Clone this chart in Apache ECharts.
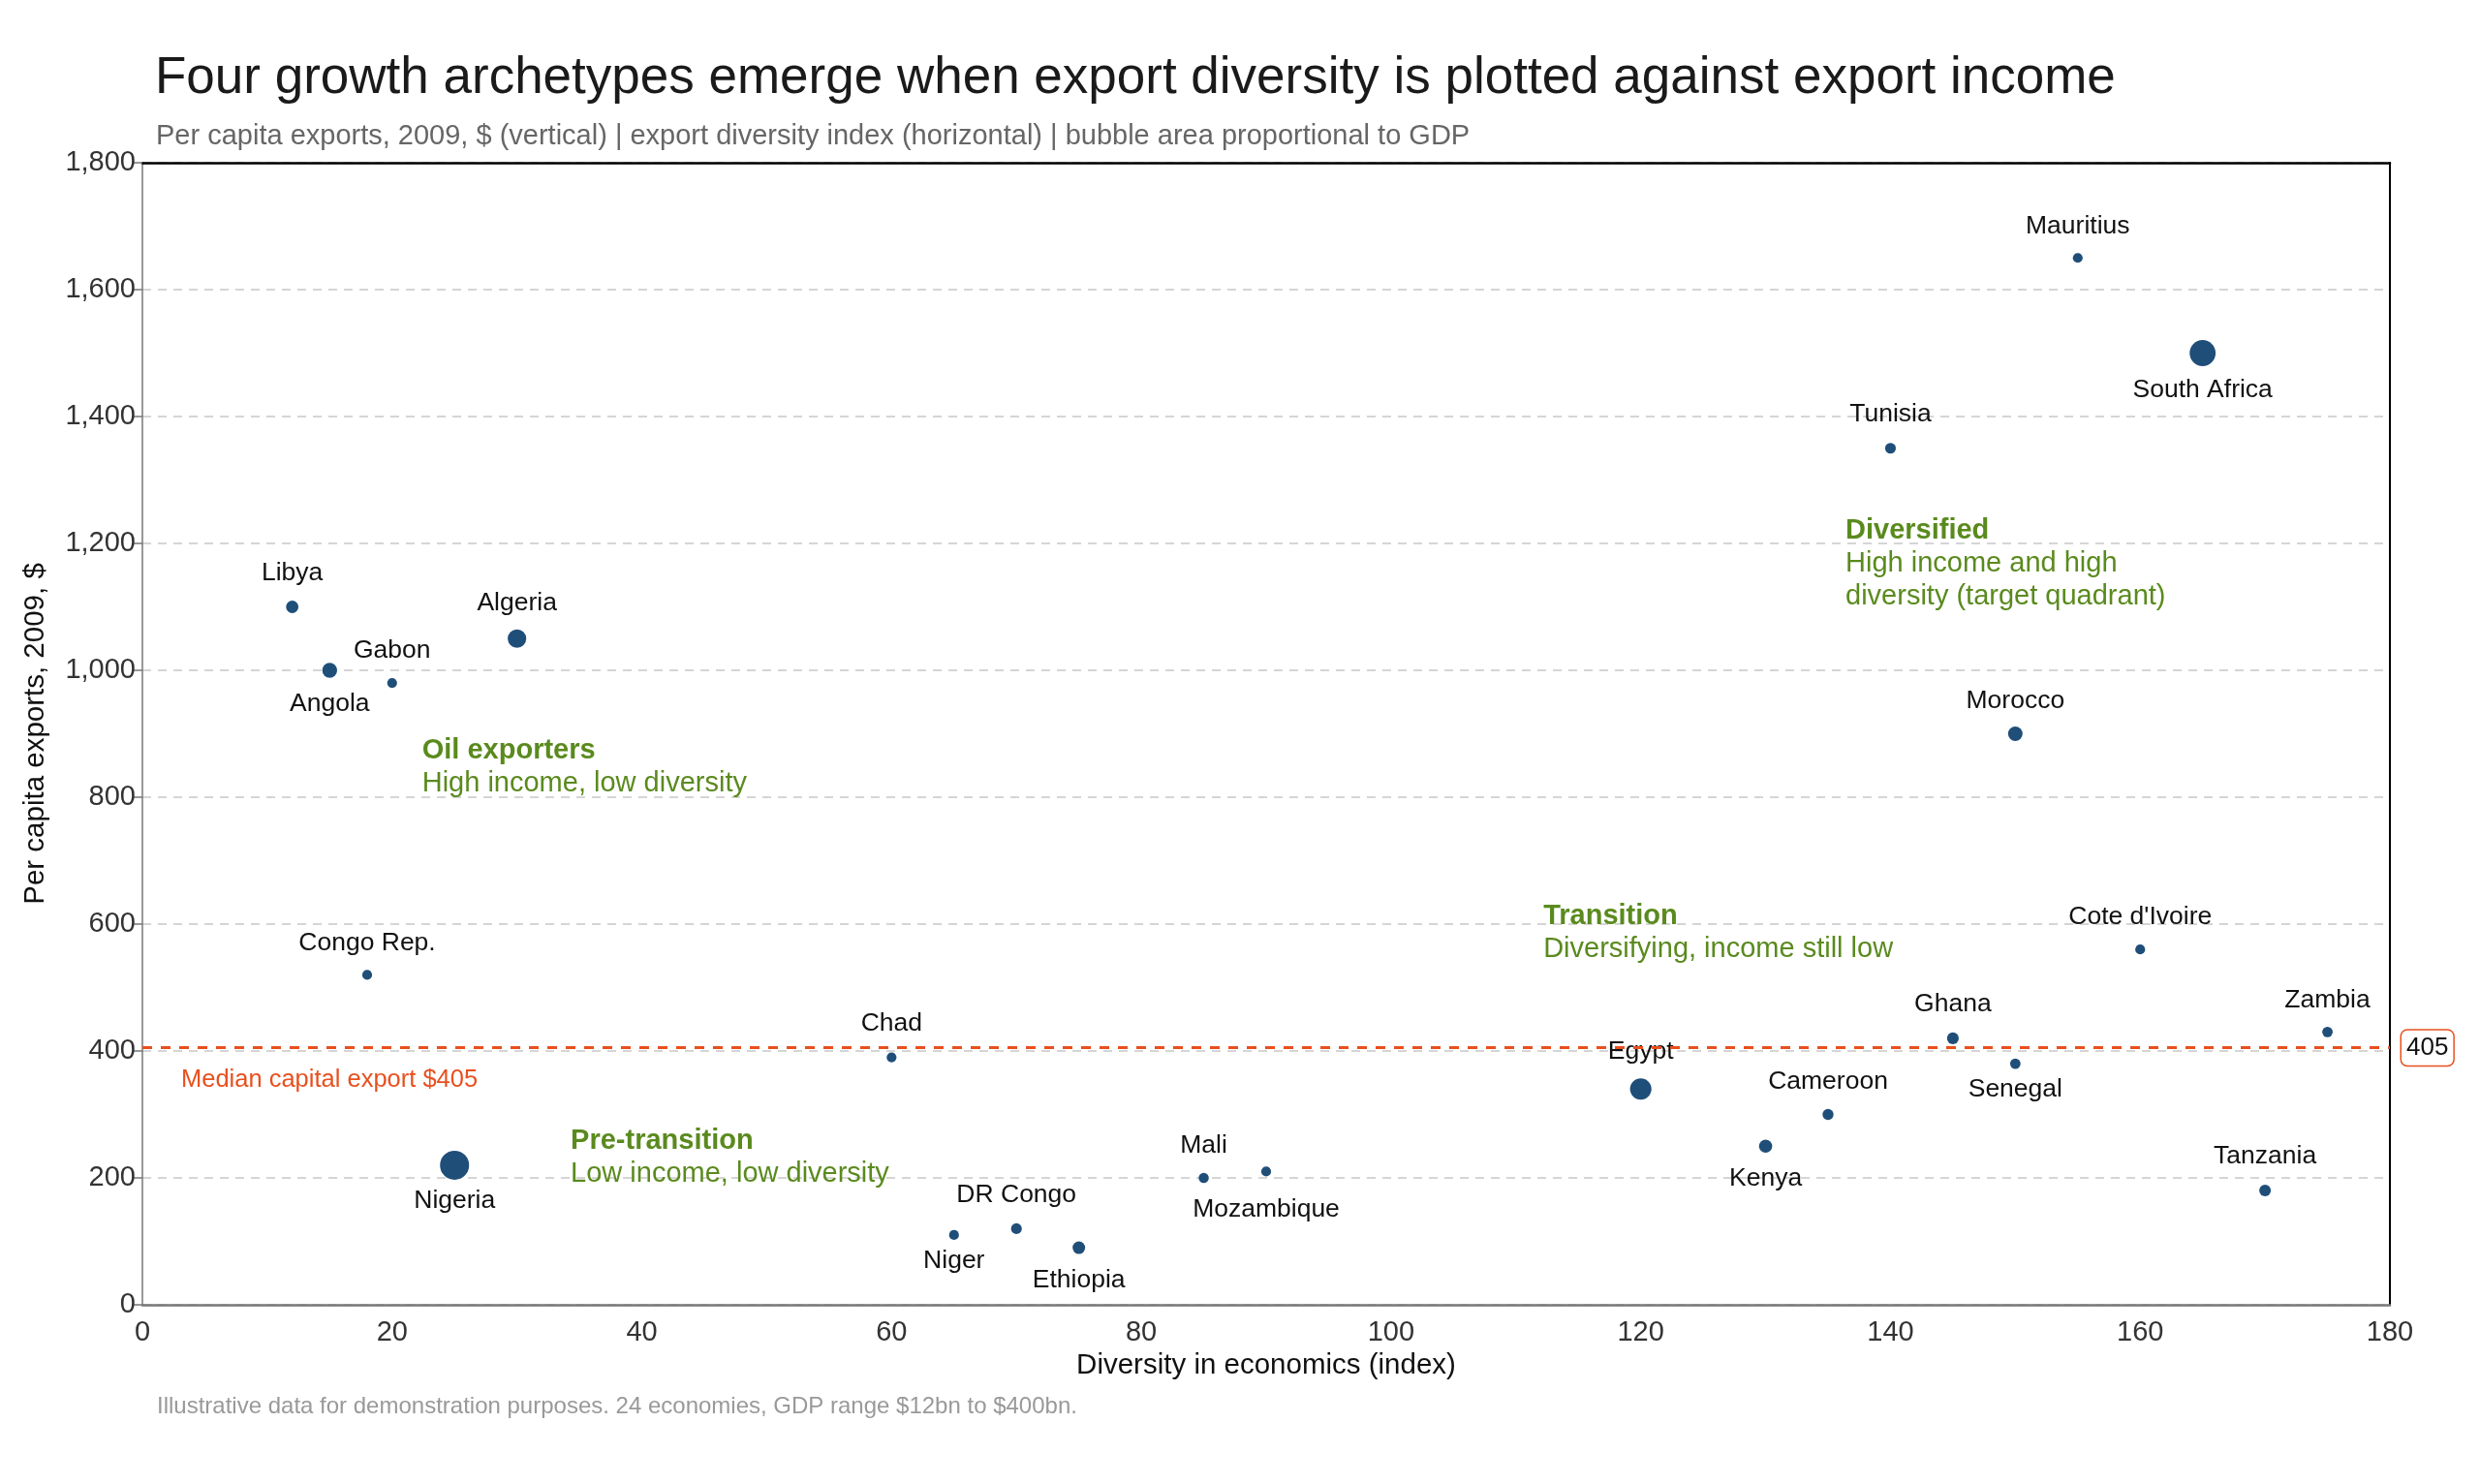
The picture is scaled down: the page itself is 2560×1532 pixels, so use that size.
<!DOCTYPE html>
<html>
<head>
<meta charset="utf-8">
<script src="https://cdn.jsdelivr.net/npm/echarts@6/dist/echarts.min.js"></script>
<style>
  html, body { margin: 0; padding: 0; background: #fff; }
  #chart { width: 2560px; height: 1532px; }
</style>
</head>
<body>
<div id="chart"></div>
<script>
// ---- data ----
const countries = ['Mauritius', 'South Africa', 'Tunisia', 'Libya', 'Algeria', 'Angola', 'Gabon', 'Morocco',
  'Congo Rep.', "Cote d'Ivoire", 'Chad', 'Zambia', 'Ghana', 'Senegal', 'Egypt', 'Cameroon', 'Kenya',
  'Nigeria', 'Mali', 'Mozambique', 'Tanzania', 'DR Congo', 'Niger', 'Ethiopia'];
const diversity = [155, 165, 140, 12, 30, 15, 20, 150, 18, 160, 60, 175, 145, 150, 120, 135, 130, 25, 85, 90, 170, 70, 65, 75];
const exportsPc = [1650, 1500, 1350, 1100, 1050, 1000, 980, 900, 520, 560, 390, 430, 420, 380, 340, 300, 250, 220, 200, 210, 180, 120, 110, 90];
const gdpBn = [12, 300, 18, 32, 120, 60, 12, 56, 12, 12, 12, 16, 26, 16, 180, 20, 40, 400, 14, 12, 25, 18, 12, 34];
const medianExport = 405;
const xTicks = { min: 0, max: 180, step: 20 };
const yTicks = { min: 0, max: 1800, step: 200 };

// ---- layout: label offsets (px, relative to bubble centre) ----
const labelDy = {
  'Mauritius': -33, 'South Africa': 38, 'Tunisia': -35, 'Libya': -35, 'Algeria': -37, 'Angola': 35,
  'Gabon': -33, 'Morocco': -34, 'Congo Rep.': -33, "Cote d'Ivoire": -34, 'Chad': -35, 'Zambia': -33,
  'Ghana': -35, 'Senegal': 27, 'Egypt': -39, 'Cameroon': -34, 'Kenya': 33, 'Nigeria': 37, 'Mali': -33,
  'Mozambique': 39, 'Tanzania': -35, 'DR Congo': -35, 'Niger': 27, 'Ethiopia': 34
};

// quadrant notes, anchored in data coordinates (left edge, centre of first line)
const notes = [
  { at: [22.4, 873], title: 'Oil exporters', lines: ['High income, low diversity'] },
  { at: [34.3, 258], title: 'Pre-transition', lines: ['Low income, low diversity'] },
  { at: [112.2, 612], title: 'Transition', lines: ['Diversifying, income still low'] },
  { at: [136.4, 1220], title: 'Diversified', lines: ['High income and high', 'diversity (target quadrant)'] }
];
const medianNote = { at: [3.1, 354], text: 'Median capital export $405' };

const FONT = '"Liberation Sans", Arial, Helvetica, sans-serif';
const BLUE = '#1f4e79';
const GREEN = '#5a8a1e';
const ORANGE = '#e8501e';

const chart = echarts.init(document.getElementById('chart'), null, { renderer: 'canvas' });

const points = countries.map((name, i) => ({
  name,
  value: [diversity[i], exportsPc[i], gdpBn[i]],
  label: { offset: [0, labelDy[name] || -34] }
}));

const option = {
  animation: false,
  backgroundColor: '#fff',
  textStyle: { fontFamily: FONT },
  title: [
    {
      text: 'Four growth archetypes emerge when export diversity is plotted against export income',
      left: 155, top: 50,
      textStyle: { fontSize: 53, fontWeight: 'normal', color: '#1a1a1a', fontFamily: FONT }
    },
    {
      text: 'Per capita exports, 2009, $ (vertical) | export diversity index (horizontal) | bubble area proportional to GDP',
      left: 156, top: 121,
      textStyle: { fontSize: 29, fontWeight: 'normal', color: '#666', fontFamily: FONT }
    },
    {
      text: 'Illustrative data for demonstration purposes. 24 economies, GDP range $12bn to $400bn.',
      left: 157, top: 1435,
      textStyle: { fontSize: 24, fontWeight: 'normal', color: '#999', fontFamily: FONT }
    }
  ],
  grid: { left: 147, right: 93, top: 168, bottom: 185, containLabel: false },
  xAxis: [
    {
      type: 'value', min: xTicks.min, max: xTicks.max, interval: xTicks.step,
      name: 'Diversity in economics (index)', nameLocation: 'middle', nameGap: 44,
      nameTextStyle: { fontSize: 29.5, color: '#111', fontFamily: FONT },
      axisLine: { show: true, onZero: false, lineStyle: { color: '#777', width: 2.5 } },
      axisTick: { show: false },
      axisLabel: { fontSize: 29, color: '#333', margin: 14, fontFamily: FONT },
      splitLine: { show: false }
    },
    {
      type: 'value', position: 'top', min: xTicks.min, max: xTicks.max,
      axisLine: { show: true, onZero: false, lineStyle: { color: '#000', width: 2.5 } },
      axisTick: { show: false }, axisLabel: { show: false }, splitLine: { show: false }
    }
  ],
  yAxis: [
    {
      type: 'value', min: yTicks.min, max: yTicks.max, interval: yTicks.step,
      name: 'Per capita exports, 2009, $', nameLocation: 'middle', nameGap: 95,
      nameTextStyle: { fontSize: 29.5, color: '#111', fontFamily: FONT },
      axisLine: { show: true, onZero: false, lineStyle: { color: '#777', width: 1.5 } },
      axisTick: { show: true, length: 10, lineStyle: { color: '#777', width: 1.5 } },
      axisLabel: {
        fontSize: 29, color: '#333', margin: 7, fontFamily: FONT,
        formatter: v => v.toLocaleString('en-US')
      },
      splitLine: { show: true, lineStyle: { color: '#c8c8c8', type: [9, 7], width: 1.5 } }
    },
    {
      type: 'value', position: 'right', min: yTicks.min, max: yTicks.max,
      axisLine: { show: true, onZero: false, lineStyle: { color: '#000', width: 2 } },
      axisTick: { show: false }, axisLabel: { show: false }, splitLine: { show: false }
    }
  ],
  series: [{
    type: 'scatter',
    data: points,
    symbolSize: v => 6 + 1.2 * Math.sqrt(v[2]),
    itemStyle: { color: BLUE, opacity: 1 },
    emphasis: { disabled: true },
    label: {
      show: true, position: 'inside', formatter: '{b}',
      fontSize: 26.5, color: '#111', fontFamily: FONT
    },
    markLine: {
      silent: true,
      symbol: ['none', 'none'],
      lineStyle: { color: ORANGE, width: 3, type: [10, 9] },
      label: {
        show: true, position: 'end', distance: 12,
        formatter: String(medianExport),
        fontSize: 26, color: '#111', fontFamily: FONT,
        backgroundColor: '#fff', borderColor: ORANGE, borderWidth: 1.5, borderRadius: 6,
        padding: [5, 5]
      },
      data: [{ yAxis: medianExport }]
    },
    z: 3
  }]
};

chart.setOption(option);

// annotations placed in data coordinates
function buildGraphics() {
  const els = [];
  notes.forEach(n => {
    const p = chart.convertToPixel({ gridIndex: 0 }, n.at);
    els.push({
      type: 'text', x: p[0], y: p[1], z: 10,
      style: { text: n.title, font: 'bold 29px ' + FONT, fill: GREEN, verticalAlign: 'middle', align: 'left' }
    });
    n.lines.forEach((t, k) => {
      els.push({
        type: 'text', x: p[0], y: p[1] + 34 * (k + 1), z: 10,
        style: { text: t, font: '29px ' + FONT, fill: GREEN, verticalAlign: 'middle', align: 'left' }
      });
    });
  });
  const m = chart.convertToPixel({ gridIndex: 0 }, medianNote.at);
  els.push({
    type: 'text', x: m[0], y: m[1], z: 10,
    style: { text: medianNote.text, font: '25.5px ' + FONT, fill: ORANGE, verticalAlign: 'middle', align: 'left' }
  });
  chart.setOption({ graphic: els });
}
buildGraphics();
</script>
</body>
</html>
